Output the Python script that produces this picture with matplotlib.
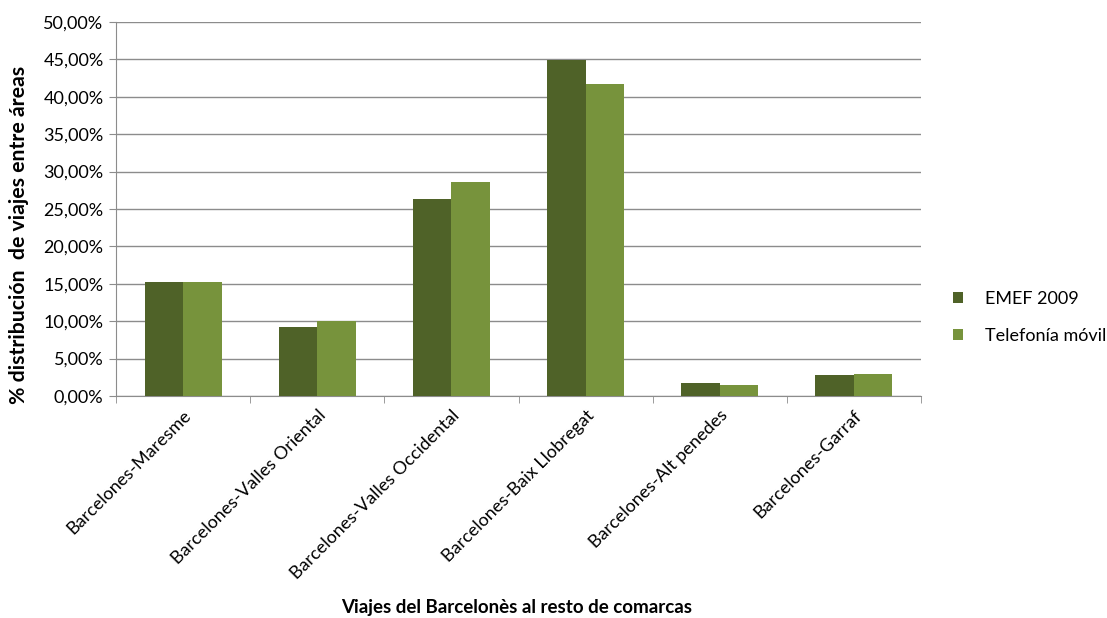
import numpy as np
import matplotlib
matplotlib.use("Agg")
import matplotlib.pyplot as plt
from matplotlib.ticker import FuncFormatter

plt.rcParams['font.family'] = ['Lato', 'DejaVu Sans']

categorias = ["Barcelones-Maresme", "Barcelones-Valles Oriental", "Barcelones-Valles Occidental",
              "Barcelones-Baix Llobregat", "Barcelones-Alt penedes", "Barcelones-Garraf"]
emef_2009 = [15.2, 9.2, 26.3, 44.9, 1.8, 2.8]
telefonia = [15.2, 10.0, 28.6, 41.7, 1.5, 3.0]
series = ["EMEF 2009", "Telefonía móvil"]

fig = plt.figure(figsize=(11.07, 6.18), dpi=100)
ax = fig.add_axes([0.1048, 0.3592, 0.7272, 0.6052])

x = np.arange(len(categorias))
w = 0.287
ax.bar(x - w/2, emef_2009, w, color="#4F6228", label=series[0], zorder=3)
ax.bar(x + w/2, telefonia, w, color="#77933C", label=series[1], zorder=3)

ax.set_xlim(-0.5, len(categorias) - 0.5)
ax.set_ylim(0, 50)
ax.set_yticks(np.arange(0, 51, 5))
ax.yaxis.set_major_formatter(FuncFormatter(lambda v, p: f"{v:.2f}%".replace(".", ",")))
ax.yaxis.grid(True, color="#8c8c8c", linewidth=1, zorder=0)

ax.set_xticks(x)
ax.set_xticklabels(categorias, rotation=45, ha="right", rotation_mode="anchor", fontsize=13)
ax.set_xticks(np.arange(-0.5, len(categorias)), minor=True)
ax.tick_params(axis="x", which="major", length=0, pad=8)
ax.tick_params(axis="x", which="minor", length=5, color="#8c8c8c")
ax.tick_params(axis="y", length=5, color="#8c8c8c", labelsize=13, pad=4)

for s in ["top", "right"]:
    ax.spines[s].set_visible(False)
for s in ["left", "bottom"]:
    ax.spines[s].set_color("#8c8c8c")

ax.set_ylabel("% distribución  de viajes entre áreas", fontsize=15.3, fontweight="bold")
ax.yaxis.set_label_coords(-0.108, 0.43)
fig.text(0.467, 0.008, "Viajes del Barcelonès al resto de comarcas", ha="center", fontsize=13.5, fontweight="bold")

ax.legend(loc="center left", bbox_to_anchor=(1.02, 0.21), frameon=False, fontsize=13,
          handlelength=0.55, handleheight=0.55, labelspacing=1.2, handletextpad=1.2)

fig.savefig("out.png", dpi=100)
